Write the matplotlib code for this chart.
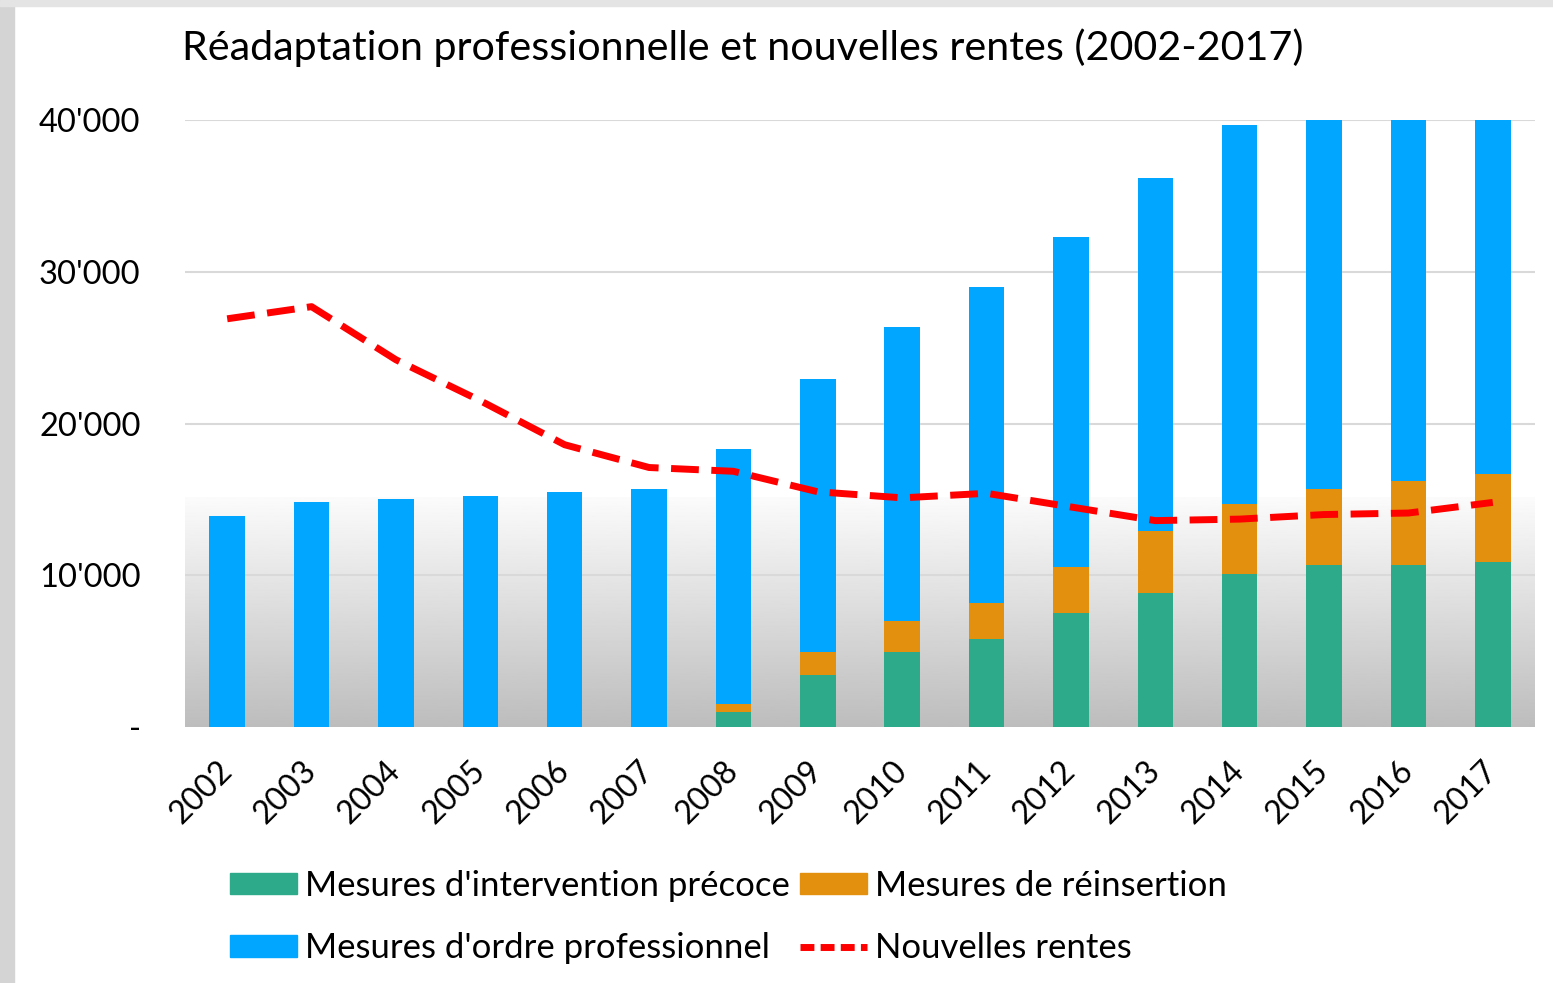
import numpy as np
import matplotlib
matplotlib.use('Agg')
import matplotlib.pyplot as plt
from matplotlib.patches import Rectangle, Patch
from matplotlib.lines import Line2D

# data
years = ['2002', '2003', '2004', '2005', '2006', '2007', '2008', '2009',
         '2010', '2011', '2012', '2013', '2014', '2015', '2016', '2017']
precoce = [0, 0, 0, 0, 0, 0, 1000, 3400, 4950, 5800, 7500, 8800, 10100, 10700, 10700, 10900]
reinsertion = [0, 0, 0, 0, 0, 0, 500, 1550, 2050, 2370, 3040, 4100, 4600, 5000, 5500, 5750]
ordre_prof = [13900, 14800, 15000, 15200, 15500, 15700, 16800, 17950, 19350, 20830,
              21760, 23300, 25000, 26000, 27000, 28000]
nouvelles_rentes = [26900, 27700, 24200, 21500, 18600, 17100, 16850, 15500, 15100, 15400,
                    14500, 13600, 13700, 14000, 14100, 14800]
yticks = [0, 10000, 20000, 30000, 40000]
ytick_labels = ['-', "10'000", "20'000", "30'000", "40'000"]

c_green = '#2caa8a'
c_orange = '#e3900f'
c_blue = '#00a6ff'
c_red = '#ff0000'

plt.rcParams['font.family'] = ['Lato', 'DejaVu Sans']

fig = plt.figure(figsize=(15.53, 9.83), dpi=100)
fig.patch.set_facecolor('white')
# grey frame of the screenshot
fig.patches.append(Rectangle((0, 0), 14 / 1553, 1, transform=fig.transFigure,
                             color='#d4d4d4', zorder=0))
fig.patches.append(Rectangle((0, 1 - 6 / 983), 1, 6 / 983, transform=fig.transFigure,
                             color='#e4e4e4', zorder=0))

ax = fig.add_axes([185 / 1553, 1 - 727 / 983, 1350 / 1553, 607 / 983])
x = np.arange(len(years))

# grey gradient in the lower part of the plot area
grad = np.linspace(0.74, 0.985, 256).reshape(-1, 1)
ax.imshow(grad, cmap='gray', vmin=0, vmax=1, aspect='auto', origin='lower',
          extent=[-0.5, len(years) - 0.5, 0, 15100], zorder=0)

bottom2 = np.array(precoce) + np.array(reinsertion)
w = 0.42
ax.bar(x, precoce, w, color=c_green, zorder=2)
ax.bar(x, reinsertion, w, bottom=precoce, color=c_orange, zorder=2)
ax.bar(x, ordre_prof, w, bottom=bottom2, color=c_blue, zorder=2)
ax.plot(x, nouvelles_rentes, color=c_red, lw=5, dashes=(4, 1.8), zorder=3)

ax.set_xlim(-0.5, len(years) - 0.5)
ax.set_ylim(0, 40000)
ax.set_yticks(yticks)
ax.set_yticklabels(ytick_labels, fontsize=23.5)
ax.set_xticks(x)
ax.set_xticklabels(years, fontsize=23, rotation=45, ha='right', va='center',
                   rotation_mode='anchor')
ax.tick_params(length=0)
ax.tick_params(axis='y', pad=32)
ax.tick_params(axis='x', pad=28)
for yv in yticks[1:]:
    ax.axhline(yv, color='#d9d9d9', lw=1.5, zorder=1)
for s in ax.spines.values():
    s.set_visible(False)
ax.set_facecolor('none')

fig.text(182 / 1553, 1 - 48 / 983, 'Réadaptation professionnelle et nouvelles rentes (2002-2017)',
         fontsize=29.7, va='center', ha='left')

handles = [Patch(color=c_green), Patch(color=c_blue), Patch(color=c_orange),
           Line2D([], [], color=c_red, lw=5, dashes=(2, 0.9))]
labels = ["Mesures d'intervention précoce", "Mesures d'ordre professionnel",
          'Mesures de réinsertion', 'Nouvelles rentes']
fig.legend(handles, labels, ncol=2, loc='center left',
           bbox_to_anchor=(199 / 1553, 1 - 917 / 983), frameon=False, fontsize=25,
           handlelength=1.93, handleheight=0.58, handletextpad=0.23,
           columnspacing=0.29, labelspacing=0.87)

fig.savefig('out.png', dpi=100)
